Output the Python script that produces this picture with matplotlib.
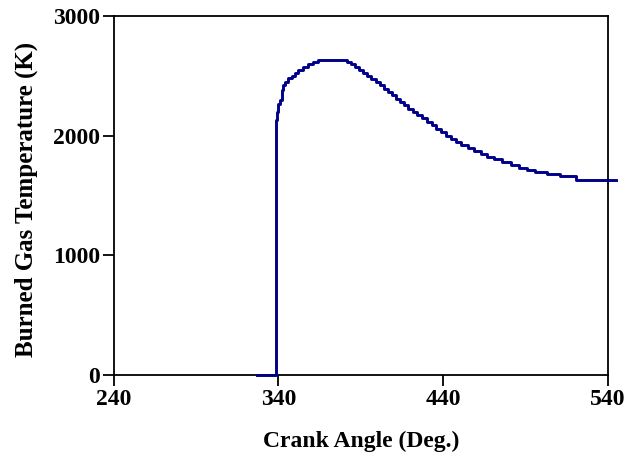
import matplotlib
matplotlib.use("Agg")
import matplotlib.pyplot as plt

crank_angle = [327, 338.3, 339, 340, 341, 342, 343, 344, 346, 348, 350, 352, 355,
               358, 361, 364, 381.5, 384, 386.5, 389, 391.5, 394, 396.5, 399,
               401.5, 404, 406.5, 409, 411.5, 414, 416.5, 419, 421.5, 424, 427,
               430, 433, 436, 439, 442, 445, 448, 451, 455, 459, 463, 467, 471,
               476, 481, 486, 491, 496, 503, 511, 521, 545]
temperature = [0, 2130, 2200, 2260, 2300, 2380, 2420, 2450, 2480, 2500, 2525, 2545,
               2570, 2595, 2615, 2635, 2615, 2595, 2570, 2545, 2520, 2495, 2470,
               2445, 2420, 2392, 2365, 2337, 2308, 2280, 2252, 2225, 2198, 2172,
               2145, 2115, 2085, 2055, 2028, 2000, 1975, 1950, 1925, 1900, 1875,
               1850, 1825, 1800, 1775, 1752, 1730, 1712, 1697, 1680, 1663, 1632,
               1632]

xticks = [240, 340, 440, 540]
yticks = [0, 1000, 2000, 3000]

plt.rcParams['font.family'] = ['Liberation Serif', 'DejaVu Serif']
plt.rcParams['font.weight'] = 'bold'

fig = plt.figure(figsize=(6.39, 4.68), dpi=100)
ax = fig.add_axes([0.178, 0.199, 0.773, 0.767])

ax.plot(crank_angle, temperature, drawstyle='steps-post', color='#00008b',
        linewidth=2.1, clip_on=False, zorder=3)

ax.set_xlim(240, 540)
ax.set_ylim(0, 3000)
ax.set_xticks(xticks)
ax.set_yticks(yticks)
ax.tick_params(direction='out', length=8, width=1.3, labelsize=17, pad=2)
for lab in ax.get_xticklabels() + ax.get_yticklabels():
    lab.set_fontweight('bold')
for sp in ax.spines.values():
    sp.set_linewidth(1.3)

ax.set_xlabel('Crank Angle (Deg.)', fontsize=17, fontweight='bold')
ax.set_ylabel('Burned Gas Temperature (K)', fontsize=18, fontweight='bold')
ax.xaxis.set_label_coords(0.5, -0.157)
ax.yaxis.set_label_coords(-0.153, 0.488)

fig.savefig('out.png', dpi=100)
